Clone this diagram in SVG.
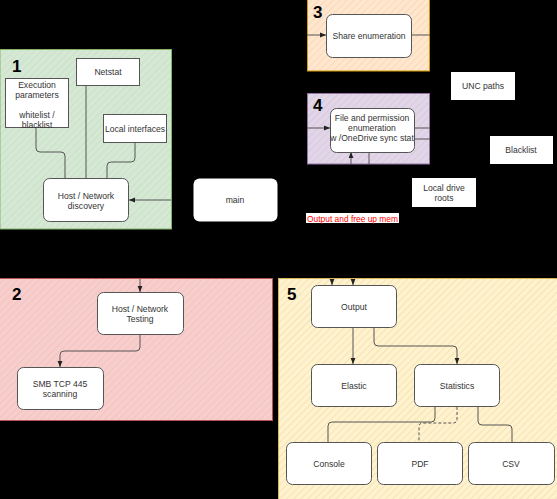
<svg xmlns="http://www.w3.org/2000/svg" width="557" height="499" viewBox="0 0 557 499">
<style>
.t{font-family:"Liberation Sans",Arial,sans-serif;font-size:8.6px;fill:#333;text-anchor:middle}
.num{font-family:"Liberation Sans",Arial,sans-serif;font-size:17px;font-weight:bold;fill:#000}
.n{fill:#fff;stroke:#555;stroke-width:1}
.c{fill:none;stroke:#555;stroke-width:1}
.d{fill:none;stroke:#555;stroke-width:1;stroke-dasharray:3,2}
</style>
<defs>
<marker id="ah" viewBox="0 0 10 10" refX="10" refY="5" markerWidth="6" markerHeight="6" orient="auto"><path d="M0,1 L10,5 L0,9 Z" fill="#222"/></marker>
<pattern id="hg" width="5" height="5" patternUnits="userSpaceOnUse" patternTransform="rotate(45)"><rect width="5" height="5" fill="#d5e8d4"/><line x1="0" y1="0" x2="0" y2="5" stroke="#c8dcc6" stroke-width="1.5"/></pattern>
<pattern id="ho" width="5" height="5" patternUnits="userSpaceOnUse" patternTransform="rotate(45)"><rect width="5" height="5" fill="#ffe6cc"/><line x1="0" y1="0" x2="0" y2="5" stroke="#f3d6b8" stroke-width="1.5"/></pattern>
<pattern id="hp" width="5" height="5" patternUnits="userSpaceOnUse" patternTransform="rotate(45)"><rect width="5" height="5" fill="#e1d5e7"/><line x1="0" y1="0" x2="0" y2="5" stroke="#d6c8de" stroke-width="1.5"/></pattern>
<pattern id="hr" width="5" height="5" patternUnits="userSpaceOnUse" patternTransform="rotate(45)"><rect width="5" height="5" fill="#f8cecc"/><line x1="0" y1="0" x2="0" y2="5" stroke="#efc0be" stroke-width="1.5"/></pattern>
<pattern id="hy" width="5" height="5" patternUnits="userSpaceOnUse" patternTransform="rotate(45)"><rect width="5" height="5" fill="#fff2cc"/><line x1="0" y1="0" x2="0" y2="5" stroke="#eee0b4" stroke-width="1.5"/></pattern>
</defs>
<rect width="557" height="499" fill="#000"/>
<g id="containers">
<rect x="0" y="49.5" width="171.5" height="179.5" fill="url(#hg)" stroke="#82b366"/>
<rect x="307.5" y="-1" width="122" height="72" fill="url(#ho)" stroke="#d79b00"/>
<rect x="307.5" y="93.5" width="122" height="70.5" fill="url(#hp)" stroke="#9673a6"/>
<rect x="-1" y="278.5" width="273.5" height="142" fill="url(#hr)" stroke="#b85450"/>
<rect x="278.5" y="278.5" width="280" height="222" fill="url(#hy)" stroke="#d6b656"/>
<text class="num" x="12" y="72">1</text>
<text class="num" x="12" y="300">2</text>
<text class="num" x="313" y="18">3</text>
<text class="num" x="313" y="111">4</text>
<text class="num" x="287" y="300">5</text>
</g>
<g id="connectors">
<path class="c" d="M36,128 V148 Q36,152 40,152 H61 Q65,152 65,156 V178"/>
<path class="c" d="M86,85 V178"/>
<path class="c" d="M135,143 V158 Q135,162 131,162 H111 Q107,162 107,166 V178"/>
<path class="c" d="M171,200 H129" marker-end="url(#ah)"/>
<path class="c" d="M307,35 H326" marker-end="url(#ah)"/>
<path class="c" d="M412,35 H430"/>
<path class="c" d="M307,128 H330" marker-end="url(#ah)"/>
<path class="c" d="M415,128 H430"/>
<path class="c" d="M413,139 H430"/>
<path class="c" d="M351,164 V152" marker-end="url(#ah)"/>
<path class="c" d="M369,152 V164"/>
<path class="c" d="M140,279 V292" marker-end="url(#ah)"/>
<path class="c" d="M140,335 V347 Q140,351 136,351 H64 Q60,351 60,355 V367" marker-end="url(#ah)"/>
<path class="c" d="M332,279 V285" marker-end="url(#ah)"/>
<path class="c" d="M353,279 V285" marker-end="url(#ah)"/>
<path class="c" d="M353,328 V364" marker-end="url(#ah)"/>
<path class="c" d="M374,328 V342 Q374,346 378,346 H453 Q457,346 457,350 V364" marker-end="url(#ah)"/>
<path class="c" d="M435,407 V418 Q435,422 431,422 H332 Q328,422 328,426 V442"/>
<path class="d" d="M457,407 V419 Q457,423 453,423 H423 Q419,423 419,427 V442"/>
<path class="c" d="M478,407 V421 Q478,425 482,425 H508 Q512,425 512,429 V442"/>
</g>
<g id="exec"><rect class="n" x="5.5" y="78.5" width="63" height="49" stroke="#333"/><text class="t" x="37" y="88">Execution</text><text class="t" x="37" y="98">parameters</text><text class="t" x="37" y="118">whitelist /</text><text class="t" x="37" y="128">blacklist</text></g>
<g id="netstat"><rect class="n" x="76.5" y="58.5" width="63" height="27" stroke="#333"/><text class="t" x="108" y="75">Netstat</text></g>
<g id="localif"><rect class="n" x="103.5" y="114.5" width="63" height="28" stroke="#333"/><text class="t" x="135" y="132">Local interfaces</text></g>
<g id="discovery"><rect class="n" x="43.5" y="178.5" width="85" height="43" rx="6"/><text class="t" x="86" y="199">Host / Network</text><text class="t" x="86" y="209">discovery</text></g>
<g id="main"><rect x="193.5" y="178.5" width="84" height="43" rx="6" fill="#fff"/><text class="t" x="235" y="203">main</text></g>
<g id="share"><rect class="n" x="326.5" y="14.5" width="85" height="43" rx="6"/><text class="t" x="369" y="39">Share enumeration</text></g>
<g id="fileperm"><rect class="n" x="330.5" y="108.5" width="84" height="44" rx="6"/><text class="t" x="372" y="121">File and permission</text><text class="t" x="372" y="131">enumeration</text><text class="t" x="372" y="141">w /OneDrive sync stat</text></g>
<g id="unc"><rect x="451" y="72" width="64" height="28" fill="#fff"/><text class="t" x="483" y="89">UNC paths</text></g>
<g id="blacklist"><rect x="490" y="136" width="63" height="28" fill="#fff"/><text class="t" x="521" y="153">Blacklist</text></g>
<g id="localdrive"><rect x="412" y="178" width="64" height="29" fill="#fff"/><text class="t" x="444" y="191">Local drive</text><text class="t" x="444" y="201">roots</text></g>
<g id="freemem"><rect x="306" y="213" width="93" height="10" fill="#fff"/><text class="t" x="352.5" y="221.5" style="fill:#ff0000;font-size:8.4px">Output and free up mem</text></g>
<g id="testing"><rect class="n" x="97.5" y="292.5" width="86" height="42" rx="6"/><text class="t" x="140" y="312">Host / Network</text><text class="t" x="140" y="322">Testing</text></g>
<g id="smb"><rect class="n" x="17.5" y="367.5" width="86" height="42" rx="6"/><text class="t" x="60" y="387">SMB TCP 445</text><text class="t" x="60" y="397">scanning</text></g>
<g id="output"><rect class="n" x="311.5" y="285.5" width="85" height="42" rx="6"/><text class="t" x="354" y="310">Output</text></g>
<g id="elastic"><rect class="n" x="311.5" y="364.5" width="85" height="42" rx="6"/><text class="t" x="354" y="389">Elastic</text></g>
<g id="statistics"><rect class="n" x="414.5" y="364.5" width="85" height="42" rx="6"/><text class="t" x="457" y="389">Statistics</text></g>
<g id="console"><rect class="n" x="286.5" y="442.5" width="85" height="42" rx="6"/><text class="t" x="329" y="467">Console</text></g>
<g id="pdf"><rect class="n" x="377.5" y="442.5" width="85" height="42" rx="6"/><text class="t" x="420" y="467">PDF</text></g>
<g id="csv"><rect class="n" x="468.5" y="442.5" width="86" height="42" rx="6"/><text class="t" x="511" y="467">CSV</text></g>
</svg>
